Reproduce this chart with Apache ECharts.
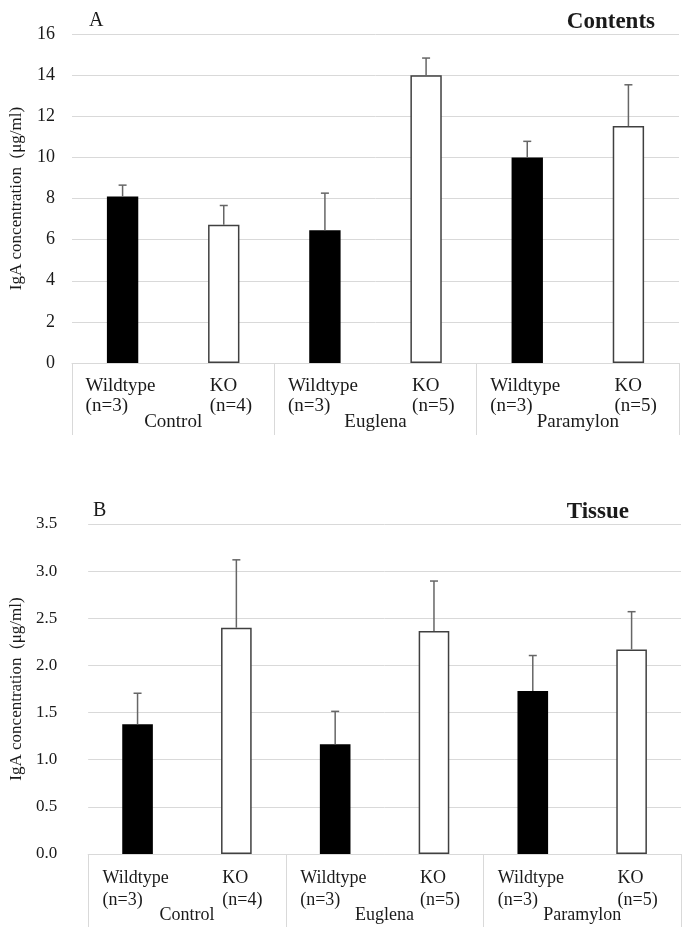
<!DOCTYPE html>
<html>
<head>
<meta charset="utf-8">
<script src="https://cdn.jsdelivr.net/npm/echarts@6/dist/echarts.min.js"></script>
<style>
  html, body { margin: 0; padding: 0; background: #fff; }
  #chart { width: 685px; height: 927px; }
</style>
</head>
<body>
<div id="chart"></div>
<script>
// categories and group labels
const categories = ['Wildtype', 'KO', 'Wildtype', 'KO', 'Wildtype', 'KO']
const nLabels = ['(n=3)', '(n=4)', '(n=3)', '(n=5)', '(n=3)', '(n=5)']
const groups = ['Control', 'Euglena', 'Paramylon']

// A: contents (µg/ml)
const contentsMean = [8.1, 6.72, 6.45, 14.0, 10.0, 11.52]
const contentsErr = [0.55, 0.94, 1.81, 0.83, 0.78, 2.01]
const contentsTicks = [0, 16, 2]

// B: tissue (µg/ml)
const tissueMean = [1.375, 2.40, 1.163, 2.365, 1.73, 2.17]
const tissueErr = [0.33, 0.72, 0.35, 0.53, 0.375, 0.40]
const tissueTicks = [0, 3.5, 0.5]

const serif = 'Liberation Serif'
const grid = '#d9d9d9'
const ink = '#1a1a1a'

const barData = (means) => means.map((v, i) => ({
  value: v,
  itemStyle: i % 2 === 0
    ? { color: '#000', borderWidth: 0 }
    : { color: '#fff', borderColor: '#404040', borderWidth: 1.5 }
}))

const errData = (means, errs) => means.map((v, i) => [i, v, v + errs[i]])

const renderErr = (params, api) => {
  const base = api.coord([api.value(0), api.value(1)])
  const top = api.coord([api.value(0), api.value(2)])
  const style = { stroke: '#666', lineWidth: 1.5 }
  return {
    type: 'group',
    children: [
      { type: 'line', shape: { x1: base[0], y1: base[1], x2: top[0], y2: top[1] }, style },
      { type: 'line', shape: { x1: top[0] - 4, y1: top[1], x2: top[0] + 4, y2: top[1] }, style }
    ]
  }
}

const catAxis = (gridIndex, size, lineH, margin, wW, wK) => ({
  type: 'category',
  gridIndex,
  data: categories,
  axisLine: { show: true, lineStyle: { color: grid, width: 1 } },
  axisTick: { show: false },
  axisLabel: {
    interval: 0,
    margin,
    formatter: (val, idx) => {
      const k = idx % 2 === 0 ? 'w' : 'k'
      return `{${k}|${val}}\n{${k}|${nLabels[idx]}}`
    },
    rich: {
      w: { width: wW, align: 'left', fontFamily: serif, fontSize: size, lineHeight: lineH, color: ink },
      k: { width: wK, align: 'left', fontFamily: serif, fontSize: size, lineHeight: lineH, color: ink }
    }
  }
})

const groupAxis = (gridIndex, size, tickLen, margin) => ({
  type: 'category',
  gridIndex,
  data: groups,
  position: 'bottom',
  axisLine: { show: false },
  axisTick: { show: true, interval: 0, length: tickLen, lineStyle: { color: grid, width: 1 } },
  axisLabel: { interval: 0, margin, fontFamily: serif, fontSize: size, color: ink, lineHeight: 20 }
})

const valAxis = (gridIndex, ticks, size, margin, gap, fmt) => ({
  type: 'value',
  gridIndex,
  min: ticks[0],
  max: ticks[1],
  interval: ticks[2],
  name: 'IgA concentration  (\u03bcg/ml)',
  nameLocation: 'middle',
  nameGap: gap,
  nameTextStyle: { fontFamily: serif, fontSize: 17, color: ink },
  axisLine: { show: false },
  axisTick: { show: false },
  splitLine: { lineStyle: { color: grid, width: 1 } },
  axisLabel: { margin, fontFamily: serif, fontSize: size, color: ink, formatter: fmt }
})

const chart = echarts.init(document.getElementById('chart'))
chart.setOption({
  animation: false,
  backgroundColor: '#fff',
  title: [
    { text: 'A', left: 84, top: 6, textStyle: { fontFamily: serif, fontSize: 20, fontWeight: 'normal', color: ink } },
    { text: 'Contents', right: 25, top: 6, textStyle: { fontFamily: serif, fontSize: 23, fontWeight: 'bold', color: ink } },
    { text: 'B', left: 88, top: 496, textStyle: { fontFamily: serif, fontSize: 20, fontWeight: 'normal', color: ink } },
    { text: 'Tissue', right: 51, top: 496, textStyle: { fontFamily: serif, fontSize: 23, fontWeight: 'bold', color: ink } }
  ],
  grid: [
    { left: 70, right: 6, top: 34, height: 329 },
    { left: 83, right: 4, top: 524, height: 330 }
  ],
  xAxis: [
    catAxis(0, 19, 20, 13, 74, 28),
    groupAxis(0, 19, 72, 49),
    catAxis(1, 18, 22, 13, 70, 28),
    groupAxis(1, 18, 75, 51)
  ],
  yAxis: [
    valAxis(0, contentsTicks, 18, 17, 47, (v) => String(v)),
    valAxis(1, tissueTicks, 17, 31, 60, (v) => v.toFixed(1))
  ],
  series: [
    { type: 'bar', xAxisIndex: 0, yAxisIndex: 0, barWidth: '31%', data: barData(contentsMean) },
    { type: 'custom', xAxisIndex: 0, yAxisIndex: 0, renderItem: renderErr, data: errData(contentsMean, contentsErr), z: 3 },
    { type: 'bar', xAxisIndex: 2, yAxisIndex: 1, barWidth: '31%', data: barData(tissueMean) },
    { type: 'custom', xAxisIndex: 2, yAxisIndex: 1, renderItem: renderErr, data: errData(tissueMean, tissueErr), z: 3 }
  ]
})
</script>
</body>
</html>
